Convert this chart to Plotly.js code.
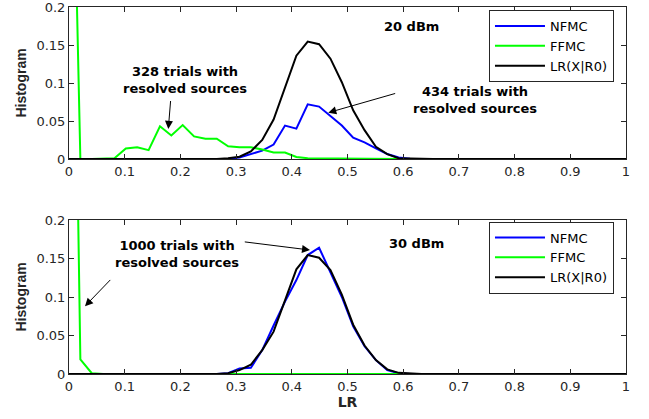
<!DOCTYPE html>
<html>
<head>
<meta charset="utf-8">
<script src="https://cdn.plot.ly/plotly-3.0.1.min.js"></script>
<style>html,body{margin:0;padding:0;background:#fff}#chart{width:649px;height:419px}</style>
</head>
<body>
<div id="chart"></div>
<script>
// LR bin centres
const lrBins = [0,0.0204,0.0408,0.0612,0.0816,0.1020,0.1224,0.1429,0.1633,0.1837,
  0.2041,0.2245,0.2449,0.2653,0.2857,0.3061,0.3265,0.3469,0.3673,0.3878,
  0.4082,0.4286,0.4490,0.4694,0.4898,0.5102,0.5306,0.5510,0.5714,0.5918,
  0.6122,0.6327,0.6531,0.6735,0.6939,0.7143,0.7347,0.7551,0.7755,0.7959,
  0.8163,0.8367,0.8571,0.8776,0.8980,0.9184,0.9388,0.9592,0.9796,1];

const seriesNames = ["NFMC", "FFMC", "LR(X|R0)"];
const seriesColors = ["#0000ff", "#00ff00", "#000000"];

// 20 dBm
const nfmc20 = [0,0,0,0,0,0,0,0,0,0,0,0,0,0,0,
  0.002,0.006,0.011,0.019,0.044,0.040,0.072,0.069,0.057,0.044,0.028,0.022,0.014,0.0065,0.002,0.0005,
  0,0,0,0,0,0,0,0,0,0,0,0,0,0,0,0,0,0,0];
const ffmc20 = [0.672,0,0,0.0005,0.001,0.0138,0.0155,0.0116,0.043,0.031,
  0.0447,0.0297,0.0267,0.0267,0.0168,0.0155,0.0155,0.0125,0.0086,0.0086,
  0.0026,0.001,0.001,0.0008,0.0006,0.0005,0.0004,0.0003,0.0002,0.0001,
  0,0,0,0,0,0,0,0,0,0,0,0,0,0,0,0,0,0,0,0];
const lr20 = [0,0,0,0,0,0,0,0,0,0,0,0,0,0,
  0.001,0.003,0.010,0.025,0.052,0.093,0.136,0.1545,0.151,0.132,0.101,0.064,0.038,0.016,0.0065,0.001,0.0005,
  0,0,0,0,0,0,0,0,0,0,0,0,0,0,0,0,0,0,0];

// 30 dBm
const nfmc30 = [0,0,0,0,0,0,0,0,0,0,0,0,0,0,
  0.001,0.007,0.008,0.031,0.063,0.094,0.122,0.1545,0.164,0.133,0.100,0.062,0.036,0.018,0.005,0.001,
  0,0,0,0,0,0,0,0,0,0,0,0,0,0,0,0,0,0,0,0];
const ffmc30 = [0.98,0.019,0.001,0,0,0,0,0,0,0,0,0,0,0,0,0,0,0,0,0,0,0,0,0,0,
  0,0,0,0,0,0,0,0,0,0,0,0,0,0,0,0,0,0,0,0,0,0,0,0,0];
const lr30 = [0,0,0,0,0,0,0,0,0,0,0,0,0,0,
  0.001,0.005,0.012,0.031,0.055,0.096,0.136,0.1545,0.151,0.135,0.103,0.064,0.037,0.018,0.006,0.0015,0.0005,
  0,0,0,0,0,0,0,0,0,0,0,0,0,0,0,0,0,0,0];

const xTicks = [0,0.1,0.2,0.3,0.4,0.5,0.6,0.7,0.8,0.9,1];
const xTickText = ["0","0.1","0.2","0.3","0.4","0.5","0.6","0.7","0.8","0.9","1"];
const yTicks = [0,0.05,0.1,0.15,0.2];
const yTickText = ["0","0.05","0.1","0.15","0.2"];

const panel20 = [nfmc20, ffmc20, lr20];
const panel30 = [nfmc30, ffmc30, lr30];
const traces = [];
panel20.forEach((ys, i) => traces.push({x: lrBins, y: ys, type: 'scatter', mode: 'lines', name: seriesNames[i],
  line: {color: seriesColors[i], width: 2}, xaxis: 'x', yaxis: 'y', legend: 'legend'}));
panel30.forEach((ys, i) => traces.push({x: lrBins, y: ys, type: 'scatter', mode: 'lines', name: seriesNames[i],
  line: {color: seriesColors[i], width: 2}, xaxis: 'x2', yaxis: 'y2', legend: 'legend2'}));

const tickFont = {family: 'DejaVu Sans', size: 13, color: '#262626'};
const bold = {family: 'DejaVu Sans', size: 13, color: '#000'};
function xa(anchor, title) {
  const o = {domain: [0, 1], range: [0, 1], anchor: anchor, tickvals: xTicks, ticktext: xTickText,
    ticks: 'inside', ticklen: 5, tickcolor: '#262626', showline: true, linecolor: '#262626', linewidth: 1,
    mirror: 'ticks', showgrid: false, zeroline: false, tickfont: tickFont, fixedrange: true,
    ticklabeloverflow: 'allow'};
  if (title) o.title = {text: title, font: {family: 'DejaVu Sans', size: 14, color: '#262626'}, standoff: 2};
  return o;
}
function ya(anchor, dom) {
  return {domain: dom, range: [0, 0.2], anchor: anchor, tickvals: yTicks, ticktext: yTickText,
    ticks: 'inside', ticklen: 5, tickcolor: '#262626', showline: true, linecolor: '#262626', linewidth: 1,
    mirror: 'ticks', showgrid: false, zeroline: false, tickfont: tickFont, fixedrange: true,
    ticklabeloverflow: 'allow',
    title: {text: '<b>Histogram</b>', font: {family: 'Liberation Sans', size: 14, color: '#262626'}, standoff: 6}};
}
const legendBase = {xref: 'paper', yref: 'paper', xanchor: 'left', yanchor: 'top', bgcolor: '#fff',
  bordercolor: '#262626', borderwidth: 1, font: {family: 'DejaVu Sans', size: 13, color: '#000'},
  itemwidth: 50, tracegroupgap: 0};

function textAnn(xr, yr, x, y, t) {
  return {xref: xr, yref: yr, x: x, y: y, text: t, showarrow: false, font: bold, align: 'center'};
}
function arrowAnn(xr, yr, x0, y0, x1, y1) {
  return {xref: xr, yref: yr, axref: xr, ayref: yr, ax: x0, ay: y0, x: x1, y: y1, text: '',
    showarrow: true, arrowhead: 2, arrowsize: 1.6, arrowwidth: 1, arrowcolor: '#000', standoff: 0, startstandoff: 0};
}

const layout = {
  width: 649, height: 419,
  margin: {l: 69, r: 23, t: 7, b: 45},
  paper_bgcolor: '#fff', plot_bgcolor: '#fff',
  showlegend: true,
  xaxis: xa('y', null),
  yaxis: ya('x', [0.5858, 1]),
  xaxis2: xa('y2', '<b>LR</b>'),
  yaxis2: ya('x2', [0, 0.4196]),
  legend: Object.assign({x: 0.754, y: 0.992}, legendBase),
  legend2: Object.assign({x: 0.754, y: 0.4155}, legendBase),
  annotations: [
    textAnn('x', 'y', 0.615, 0.174, '<b>20 dBm</b>'),
    textAnn('x', 'y', 0.2083, 0.1045, '<b>328 trials with<br>resolved sources</b>'),
    arrowAnn('x', 'y', 0.1826, 0.0783, 0.1783, 0.0396),
    textAnn('x', 'y', 0.7289, 0.0783, '<b>434 trials with<br>resolved sources</b>'),
    arrowAnn('x', 'y', 0.5883, 0.0868, 0.4655, 0.061),
    textAnn('x2', 'y2', 0.624, 0.1697, '<b>30 dBm</b>'),
    textAnn('x2', 'y2', 0.1934, 0.1558, '<b>1000 trials with<br>resolved sources</b>'),
    arrowAnn('x2', 'y2', 0.3129, 0.1718, 0.4327, 0.161),
    arrowAnn('x2', 'y2', 0.0767, 0.1241, 0.0287, 0.0881)
  ]
};

Plotly.newPlot('chart', traces, layout, {staticPlot: true, displayModeBar: false});
</script>
</body>
</html>
